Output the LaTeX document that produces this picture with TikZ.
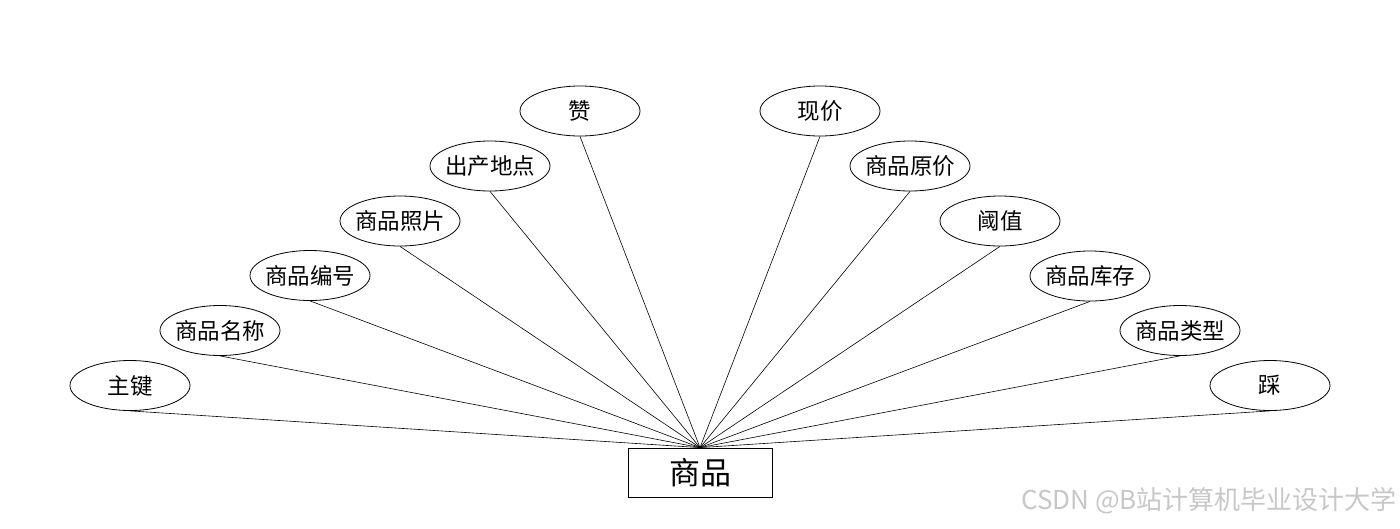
\documentclass[tikz,border=0pt]{standalone}
\usepackage{fontspec}
\setmainfont{Noto Sans CJK SC}
\usetikzlibrary{shapes.geometric}
\newcommand{\lbl}[1]{\makebox[0pt]{#1}}
\begin{document}
\begin{tikzpicture}[x=1pt,y=-1pt,
  attr/.style={ellipse,draw,line width=0.8pt,minimum width=120pt,minimum height=50pt,inner sep=0pt,font=\fontsize{22.5}{26}\selectfont},
  ent/.style={rectangle,draw,line width=0.8pt,minimum width=144pt,minimum height=49pt,inner sep=0pt,font=\fontsize{31}{36}\selectfont},
  conn/.style={line width=0.6pt}]
\useasboundingbox (0,0) rectangle (1400,528);
\node[ent] (e) at (700,472.5) {商品};
\node[attr] (a1) at (130,385.5) {\lbl{主键}};
\node[attr] (a2) at (220,330.5) {\lbl{商品名称}};
\node[attr] (a3) at (310,275.5) {\lbl{商品编号}};
\node[attr] (a4) at (400,221) {\lbl{商品照片}};
\node[attr] (a5) at (490,166) {\lbl{出产地点}};
\node[attr] (a6) at (580,111) {\lbl{赞}};
\node[attr] (b1) at (820,111) {\lbl{现价}};
\node[attr] (b2) at (910,166) {\lbl{商品原价}};
\node[attr] (b3) at (1000,221) {\lbl{阈值}};
\node[attr] (b4) at (1090,276) {\lbl{商品库存}};
\node[attr] (b5) at (1180,330.5) {\lbl{商品类型}};
\node[attr] (b6) at (1270,385.5) {\lbl{踩}};
\foreach \n in {a1,a2,a3,a4,a5,a6,b1,b2,b3,b4,b5,b6}
  \draw[conn] (\n.south) -- (e.north);
\node[anchor=east,text=black!22,font=\fontsize{26}{30}\selectfont,inner sep=0pt] (wm) at (1397,501) {CSDN @B站计算机毕业设计大学};
\end{tikzpicture}
\end{document}
